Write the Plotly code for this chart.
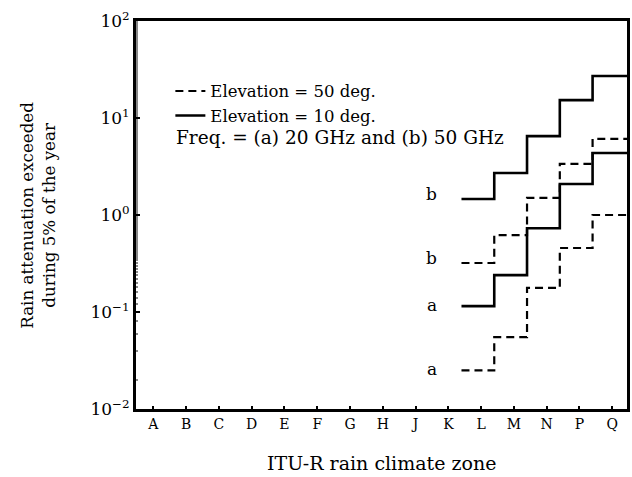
import math
import plotly.graph_objects as go

# ---- data ----
zones = ["A", "B", "C", "D", "E", "F", "G", "H", "J", "K", "L", "M", "N", "P", "Q"]
zones_with_data = ["L", "M", "N", "P", "Q"]
att_20ghz_el10 = [0.115, 0.24, 0.73, 2.09, 4.35]
att_50ghz_el10 = [1.46, 2.71, 6.5, 15.3, 27.1]
att_20ghz_el50 = [0.025, 0.055, 0.177, 0.457, 1.0]
att_50ghz_el50 = [0.32, 0.62, 1.5, 3.36, 6.1]
y_tick_vals = [0.01, 0.1, 1, 10, 100]
y_tick_text = ["10<sup>\u22122</sup>", "10<sup>\u22121</sup>", "10<sup>0</sup>", "10<sup>1</sup>", "10<sup>2</sup>"]

# ---- style ----
FONT = "DejaVu Serif"
STEP_OFFSET = 0.6
X_MAX = 14.45
X_MIN = -0.53

fig = go.Figure()

def step_xy(vals):
    idx = [zones.index(z) for z in zones_with_data]
    xs = [i - STEP_OFFSET for i in idx] + [X_MAX]
    ys = list(vals) + [vals[-1]]
    return xs, ys

series = [
    (att_50ghz_el50, "dash", "Elevation = 50 deg.", True, "b"),
    (att_50ghz_el10, "solid", "Elevation = 10 deg.", True, "b"),
    (att_20ghz_el50, "dash", "Elevation = 50 deg.", False, "a"),
    (att_20ghz_el10, "solid", "Elevation = 10 deg.", False, "a"),
]
for vals, dash, name, show, lab in series:
    xs, ys = step_xy(vals)
    fig.add_trace(go.Scatter(
        x=xs, y=ys, mode="lines", line_shape="hv",
        line=dict(color="black", width=2.6 if dash == "solid" else 2.2,
                  dash="8px,5px" if dash == "dash" else "solid"),
        name=name, showlegend=show, legendgroup=name,
    ))
    fig.add_annotation(
        x=zones.index(zones_with_data[0]) - STEP_OFFSET - 0.9,
        y=math.log10(vals[0]), yshift=5 if lab == "b" else 1,
        text=lab, showarrow=False,
        font=dict(family=FONT, size=17, color="black"),
    )

fig.add_annotation(
    xref="paper", yref="paper", x=0.077, y=0.700, xanchor="left", yanchor="middle",
    text="Freq. = (a) 20 GHz and (b) 50 GHz", showarrow=False,
    font=dict(family=FONT, size=18.5, color="black"),
)
fig.add_annotation(
    xref="paper", yref="paper", x=-0.2, y=0.5, xanchor="center", yanchor="middle",
    text="Rain attenuation exceeded<br>during 5% of the year", textangle=-90,
    showarrow=False, font=dict(family=FONT, size=16.7, color="black"),
)
fig.add_annotation(
    xref="paper", yref="paper", x=0.5, y=-0.14, xanchor="center", yanchor="middle",
    text="ITU-R rain climate zone", showarrow=False,
    font=dict(family=FONT, size=19, color="black"),
)

fig.update_layout(
    width=632, height=477,
    margin=dict(l=136, r=2, t=21, b=68),
    paper_bgcolor="white", plot_bgcolor="white",
    font=dict(family=FONT, size=15, color="black"),
    showlegend=True,
    legend=dict(x=0.07, y=0.864, xanchor="left", yanchor="top",
                bgcolor="rgba(0,0,0,0)", font=dict(family=FONT, size=16.5),
                itemwidth=30, tracegroupgap=0),
    xaxis=dict(
        range=[X_MIN, X_MAX], tickmode="array",
        tickvals=list(range(len(zones))), ticktext=zones,
        ticks="inside", ticklen=3, tickwidth=2, tickcolor="black",
        showline=True, linewidth=3, linecolor="black", mirror=True,
        showgrid=False, zeroline=False,
        tickfont=dict(family=FONT, size=14, color="black"),
    ),
    yaxis=dict(
        type="log", range=[-2, 2], tickmode="array",
        tickvals=y_tick_vals, ticktext=y_tick_text,
        ticks="inside", ticklen=4, tickwidth=1.5, tickcolor="black",
        minor=dict(ticks="inside", ticklen=2, tickcolor="#888", showgrid=False),
        showline=True, linewidth=3, linecolor="black", mirror=True,
        showgrid=False, zeroline=False,
        tickfont=dict(family=FONT, size=17, color="black"),
    ),
)

fig.write_html("out.html")
